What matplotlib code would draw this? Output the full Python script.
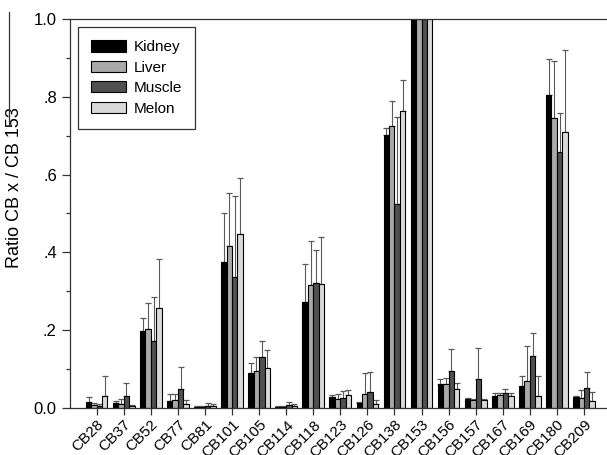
import numpy as np
import matplotlib
matplotlib.use("Agg")
import matplotlib.pyplot as plt
from matplotlib.lines import Line2D
from matplotlib.ticker import FuncFormatter, MultipleLocator

plt.rcParams['font.family'] = ['Liberation Sans', 'DejaVu Sans']

congeners = ['CB28', 'CB37', 'CB52', 'CB77', 'CB81', 'CB101', 'CB105',
             'CB114', 'CB118', 'CB123', 'CB126', 'CB138', 'CB153', 'CB156',
             'CB157', 'CB167', 'CB169', 'CB180', 'CB209']
tissues = ['Kidney', 'Liver', 'Muscle', 'Melon']
colors = ['#000000', '#a9a9a9', '#505050', '#d9d9d9']

# mean ratio per tissue
kidney = [0.016, 0.012, 0.197, 0.018, 0.002, 0.375, 0.089, 0.003, 0.272,
          0.027, 0.013, 0.703, 1.0, 0.062, 0.023, 0.032, 0.057, 0.805, 0.029]
liver = [0.008, 0.009, 0.202, 0.020, 0.003, 0.416, 0.096, 0.003, 0.316,
         0.022, 0.037, 0.725, 1.0, 0.062, 0.020, 0.033, 0.070, 0.745, 0.025]
muscle = [0.006, 0.031, 0.173, 0.050, 0.006, 0.338, 0.130, 0.007, 0.322,
          0.026, 0.041, 0.524, 1.0, 0.095, 0.074, 0.039, 0.133, 0.657, 0.051]
melon = [0.032, 0.005, 0.258, 0.010, 0.005, 0.446, 0.103, 0.006, 0.318,
         0.033, 0.010, 0.763, 1.0, 0.049, 0.020, 0.031, 0.032, 0.710, 0.017]

# top of the (upper-only) error bars
kidney_top = [0.028, 0.018, 0.232, 0.035, 0.004, 0.500, 0.116, 0.005, 0.370,
              0.034, 0.016, 0.719, 1.0, 0.074, 0.025, 0.038, 0.083, 0.896, 0.031]
liver_top = [0.012, 0.023, 0.271, 0.035, 0.005, 0.552, 0.132, 0.005, 0.430,
             0.037, 0.089, 0.789, 1.0, 0.076, 0.024, 0.039, 0.159, 0.892, 0.045]
muscle_top = [0.010, 0.064, 0.285, 0.106, 0.014, 0.545, 0.173, 0.015, 0.406,
              0.043, 0.092, 0.747, 1.0, 0.152, 0.153, 0.050, 0.194, 0.758, 0.093]
melon_top = [0.083, 0.008, 0.383, 0.021, 0.009, 0.592, 0.150, 0.009, 0.439,
             0.045, 0.020, 0.843, 1.0, 0.064, 0.023, 0.039, 0.083, 0.921, 0.042]

means = [kidney, liver, muscle, melon]
tops = [kidney_top, liver_top, muscle_top, melon_top]

fig = plt.figure(figsize=(6.07, 4.55), dpi=100)
ax = fig.add_axes([0.1153, 0.1033, 0.8847, 0.855])

x = np.arange(len(congeners))
width = 0.2
for i, (name, vals, top, col) in enumerate(zip(tissues, means, tops, colors)):
    vals = np.array(vals)
    up = np.clip(np.array(top) - vals, 0, None)
    err = np.vstack([np.zeros_like(up), up])
    ax.bar(x + (i - 1.5) * width, vals, width, color=col, edgecolor='black',
           linewidth=0.8, label=name, zorder=2)
    ax.errorbar(x + (i - 1.5) * width, vals, yerr=err, fmt='none',
                ecolor='#5a5a5a', elinewidth=0.8, capsize=2.5, capthick=0.9,
                zorder=1)

ax.set_xlim(-0.985, 18.85)
ax.set_ylim(0, 1.0)
ax.spines['right'].set_visible(False)
for s in ['left', 'top', 'bottom']:
    ax.spines[s].set_linewidth(0.9)
    ax.spines[s].set_color('#333333')

ax.set_xticks(x)
ax.set_xticklabels(congeners, rotation=45, ha='right',
                   rotation_mode='anchor', fontsize=11)
ax.yaxis.set_major_locator(MultipleLocator(0.2))
ax.yaxis.set_minor_locator(MultipleLocator(0.1))


def fmt(v, pos):
    if abs(v) < 1e-9:
        return '0.0'
    if abs(v - 1) < 1e-9:
        return '1.0'
    return ('%.1f' % v).lstrip('0')


ax.yaxis.set_major_formatter(FuncFormatter(fmt))
ax.tick_params(axis='y', which='major', length=6, width=0.9, labelsize=12,
               color='#333333')
ax.tick_params(axis='y', which='minor', length=3, width=0.9, color='#333333')
ax.tick_params(axis='x', length=5, width=0.9, color='#333333', pad=2)

ax.set_ylabel('Ratio CB x / CB 153', fontsize=13)
ax.yaxis.set_label_coords(-0.0875, 0.566)

leg = ax.legend(loc='upper left', bbox_to_anchor=(0.015, 0.979), fontsize=11,
                handlelength=2.3, handleheight=0.75, labelspacing=0.42,
                handletextpad=0.5, borderpad=0.86, borderaxespad=0,
                fancybox=False, framealpha=1, edgecolor='#333333')
leg.get_frame().set_linewidth(0.9)

# stray panel border at the left edge of the source image
fig.add_artist(Line2D([9 / 607, 9 / 607], [1 - 12 / 455, 1 - 125 / 455],
                      color='#333333', linewidth=0.9))

fig.savefig('out.png', dpi=100)
